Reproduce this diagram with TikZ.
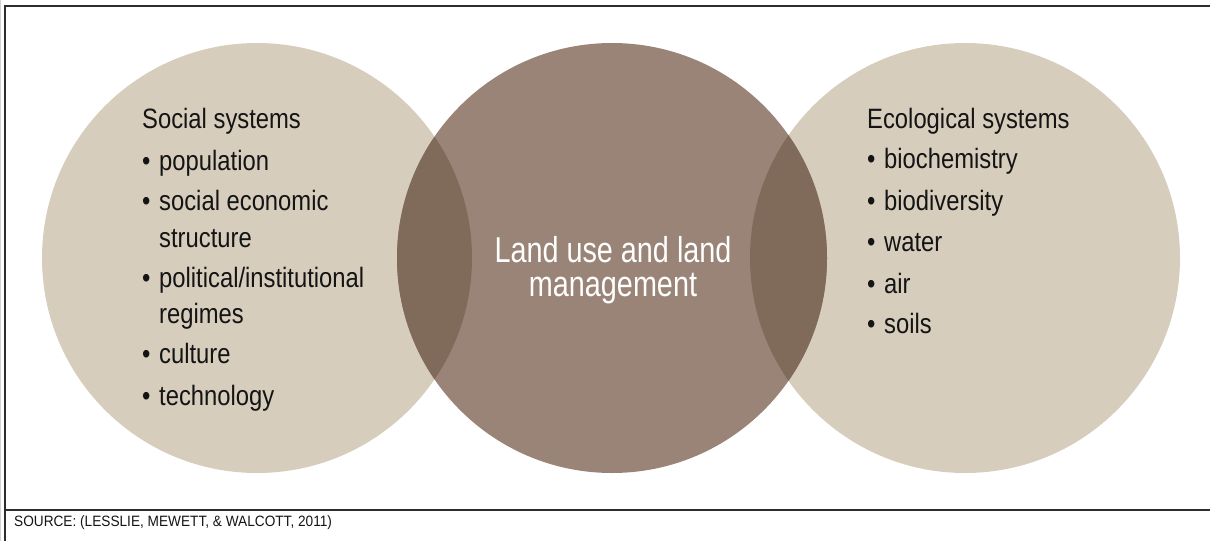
\documentclass[tikz,border=0pt]{standalone}
\usepackage{fontspec}
\setmainfont{Liberation Sans}[FakeStretch=0.85]
\newfontfamily\hubfont{Liberation Sans}[FakeStretch=0.8]
\newfontfamily\notefont{Liberation Sans}[FakeStretch=0.91]
\definecolor{sidefill}{RGB}{214,205,189}
\definecolor{hubfill}{RGB}{153,132,119}
\definecolor{lensfill}{RGB}{128,106,90}
\definecolor{framegray}{RGB}{45,45,45}
\definecolor{inktext}{RGB}{20,20,20}
\tikzset{
    venn/.cd,
    side/.style={circle,fill=sidefill,minimum size=430pt,inner sep=0pt},
    hub/.style={circle,fill=hubfill,minimum size=430pt,inner sep=0pt},
    lens/.style={fill=lensfill},
    entry/.style={anchor=base west,inner sep=0pt,text=inktext,font=\fontsize{28}{32}\selectfont},
    bullet/.style={venn/entry},
    hubtext/.style={anchor=base,inner sep=0pt,text=white,font=\hubfont\fontsize{36}{40}\selectfont},
    rule/.style={line width=1.2pt,draw=framegray},
}

\begin{document}
\begin{tikzpicture}[x=1pt,y=-1pt]
      \useasboundingbox (0,0) rectangle (1210,541);
      \draw[gray!35,line width=1pt] (0.5,0) -- (0.5,541);
      \draw[venn/rule] (1210,6) -- (5,6) -- (5,541);
      \draw[venn/rule] (5,510) -- (1210,510);

      \node[venn/side] (social) at (257,258) {};
      \node[venn/side] (eco) at (965,258) {};
      \node[venn/hub] (land) at (612,258) {};
      \foreach \s in {social,eco} {
        \begin{scope}
          \clip (\s.center) circle (215pt);
          \fill[venn/lens] (land.center) circle (215pt);
        \end{scope}
      }

      \node[venn/hubtext] (land-1) at (613,262) {Land use and land};
      \node[venn/hubtext] (land-2) at (613,296) {management};

      \node[venn/entry] (social-title) at (142,128) {Social systems};
      \foreach[count=\i] \y/\txt in {170/population,210/social economic,247/structure,
          287/political\slash institutional,323/regimes,363/culture,405/technology} {
        \node[venn/entry] (social-\i) at (159,\y) {\txt};
      }
      \foreach[count=\i] \y in {170,210,287,363,405} {
        \node[venn/bullet] (social-dot\i) at (142,\y) {•};
      }

      \node[venn/entry] (eco-title) at (867,128) {Ecological systems};
      \foreach[count=\i] \y/\txt in {168/biochemistry,210/biodiversity,251/water,293/air,333/soils} {
        \node[venn/entry] (eco-\i) at (884,\y) {\txt};
        \node[venn/bullet] (eco-dot\i) at (867,\y) {•};
      }

      \node[anchor=base west,inner sep=0pt,text=inktext,font=\notefont\fontsize{15}{18}\selectfont]
        (source) at (14,526) {SOURCE: (LESSLIE, MEWETT, \& WALCOTT, 2011)};
    \end{tikzpicture}
\end{document}
